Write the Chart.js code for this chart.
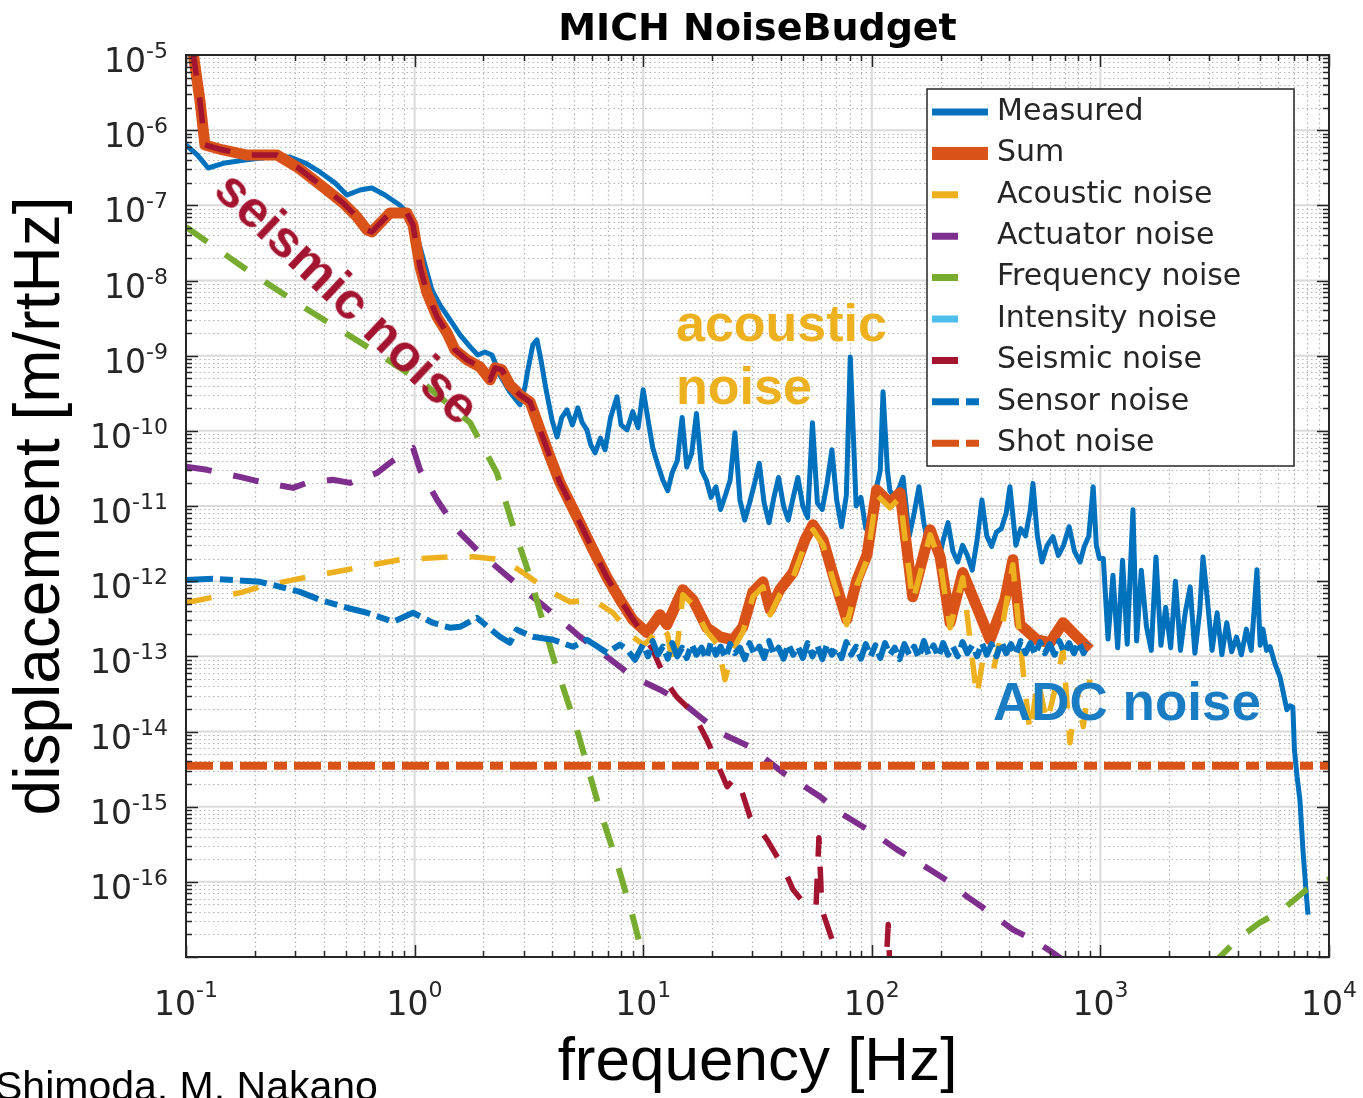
<!DOCTYPE html>
<html>
<head>
<meta charset="utf-8">
<title>MICH NoiseBudget</title>
<script src="https://cdn.jsdelivr.net/npm/chart.js@4.4.1/dist/chart.umd.min.js"></script>
<style>
  html, body { margin: 0; padding: 0; background: #fff; overflow: hidden; }
  #wrap { position: relative; width: 1363px; height: 1098px; overflow: hidden; }
  canvas { display: block; }
  .note { position: absolute; font-family: 'Liberation Sans', Arial, sans-serif; font-weight: bold; white-space: nowrap; line-height: 63px; }
  #seismicNote { left: 348px; top: 297px; font-size: 52px; color: #A2142F; transform: translate(-50%, -50%) rotate(43.5deg); line-height: 1; }
  #acousticNote { left: 676px; top: 292px; font-size: 52px; color: #EDB120; }
  #adcNote { left: 993px; top: 670px; font-size: 53px; color: #1a7cc2; }
  #credit { position: absolute; left: -5px; top: 1066px; font-family: 'Liberation Sans', Arial, sans-serif; font-size: 41px; line-height: 41px; color: #000; white-space: nowrap; }
</style>
</head>
<body>
<div id="wrap">
  <canvas id="myChart" width="1363" height="1098"></canvas>
  <div class="note" id="seismicNote">seismic noise</div>
  <div class="note" id="acousticNote">acoustic<br>noise</div>
  <div class="note" id="adcNote">ADC noise</div>
  <div id="credit">Shimoda, M. Nakano</div>
</div>
<script>
// axis ranges and tick labels (powers of ten)
var xMin = 0.1, xMax = 1e4;
var yMin = 1e-17, yMax = 1e-5;
var xTickExps = [-1, 0, 1, 2, 3, 4];
var yTickExps = [-5, -6, -7, -8, -9, -10, -11, -12, -13, -14, -15, -16];

// Measured spectrum [Hz] / [m/rtHz]
var measuredFreq = [
  0.1, 0.112, 0.125, 0.148, 0.181, 0.233, 0.285, 0.332, 0.385, 0.448,
  0.505, 0.577, 0.65, 0.742, 0.86, 0.955, 1.035, 1.11, 1.19, 1.29,
  1.43, 1.58, 1.75, 1.89, 2.03, 2.18, 2.36, 2.61, 2.89, 3.04,
  3.13, 3.29, 3.43,
  3.57, 3.76, 3.99, 4.2, 4.4, 4.64, 4.9, 5.18, 5.4, 5.67,
  5.9, 6.16, 6.5, 6.81, 7.2, 7.68, 8.0, 8.5, 9.0, 9.5,
  10,
  10.5, 11, 11.6, 12.2, 12.8, 13.4, 14.1, 14.8, 15.5, 16.3,
  17.1, 18, 18.9, 19.8, 20.8, 21.8, 22.9, 24, 25.2, 26.5,
  27.8, 29.2, 30.7, 32.2, 33.8, 35.5, 37.3, 39.1, 41.1, 43.1,
  45.3, 47.5, 49.9, 52.4, 55, 57.8, 60.7, 63.7, 66.9, 70.2,
  73.7, 77.4, 80.5, 85.4, 89.6, 94.1, 98.8, 103.7, 108.9, 112,
  117, 120, 126, 132.3, 137, 145.9, 153.2, 160.8, 168.9, 177.3,
  186.2, 195.5, 205.2, 215.5, 226.3, 237.6, 249.5, 261.9, 275, 288.8,
  303.2, 318.4, 334.3, 351, 368.6, 387, 402, 426.7, 448, 470.4,
  494, 507, 530, 555, 585, 620, 655, 690, 730, 770,
  815, 850, 890, 930, 960, 990,
  1030, 1080, 1135, 1190, 1250, 1310, 1388, 1440, 1510, 1590,
  1670, 1750, 1840, 1930, 2030, 2130, 2240, 2350, 2470, 2590,
  2720, 2810, 2930, 3080, 3240, 3400, 3570, 3750, 3940, 4140,
  4350, 4570, 4840, 5000, 5140, 5330, 5520, 5800, 6100, 6350,
  6540, 6750, 6950, 7060, 7250, 7460, 7690, 7900, 8090
];
var measuredVal = [
  6.35e-7, 4.7e-7, 3.14e-7, 3.66e-7, 4.0e-7, 4.4e-7, 4.4e-7, 3.66e-7, 2.78e-7, 1.99e-7,
  1.37e-7, 1.6e-7, 1.7e-7, 1.37e-7, 1.01e-7, 7.45e-8, 3.46e-8, 1.61e-8, 7.5e-9, 4.74e-9,
  3.0e-9, 1.89e-9, 1.31e-9, 1.02e-9, 1.12e-9, 1.02e-9, 5.55e-10, 3.3e-10, 2.22e-10, 3.85e-10,
  6.47e-10, 1.39e-9, 1.62e-9,
  8.8e-10, 3.51e-10, 1.4e-10, 8.3e-11, 1.5e-10, 1.9e-10, 1.2e-10, 2.02e-10, 1.3e-10, 1.03e-10,
  6.5e-11, 5.1e-11, 8e-11, 5.6e-11, 1.5e-10, 2.83e-10, 1.2e-10, 1.03e-10, 1.8e-10, 1.1e-10,
  3.51e-10,
  1.4e-10, 6e-11, 3.5e-11, 2.2e-11, 1.6e-11, 2.8e-11, 4e-11, 1.5e-10, 3.3e-11, 5e-11,
  1.7e-10, 3e-11, 2.2e-11, 1.3e-11, 1.8e-11, 9e-12, 1.4e-11, 2.2e-11, 9.4e-11, 1.2e-11,
  6.5e-12, 1.1e-11, 2e-11, 3.7e-11, 1.1e-11, 6e-12, 1.3e-11, 2.4e-11, 1e-11, 6.5e-12,
  1.3e-11, 2.4e-11, 1e-11, 7e-12, 1.28e-10, 1.1e-11, 9e-12, 2e-11, 5.6e-11, 1.2e-11,
  5.3e-12, 1.4e-11, 9.6e-10, 1e-11, 1.3e-11, 5e-12, 7e-12, 1.5e-11, 3e-11, 3.3e-10,
  3e-11, 1.6e-11, 1.3e-11, 1.8e-11, 2.4e-11, 4e-12, 8e-12, 1.8e-11, 6e-12, 2.9e-12,
  4.5e-12, 1.8e-12, 3.5e-12, 6e-12, 2.5e-12, 1.8e-12, 3e-12, 2.2e-12, 1.4e-12, 3.5e-12,
  1.2e-11, 4e-12, 2.9e-12, 4.5e-12, 5e-12, 8e-12, 1.8e-11, 3e-12, 5e-12, 4e-12,
  9e-12, 2e-11, 4e-12, 1.8e-12, 3e-12, 3.9e-12, 2.2e-12, 3e-12, 5.3e-12, 2.5e-12,
  1.8e-12, 2.9e-12, 4e-12, 1.8e-11, 3e-12, 2e-12,
  2.0e-12, 1.7e-13, 1.2e-12, 1.3e-13, 1.9e-12, 1.45e-13, 8.9e-12, 1.6e-13, 1.4e-12, 2.5e-13,
  1.2e-13, 2.1e-12, 1.4e-13, 4.5e-13, 1.3e-13, 1.0e-12, 1.2e-13, 3.8e-13, 8.4e-13, 1.1e-13,
  4e-13, 2.1e-12, 6.2e-13, 1.2e-13, 3.8e-13, 1.05e-13, 2.8e-13, 1.15e-13, 1.8e-13, 1.05e-13,
  2.3e-13, 1.2e-13, 1.42e-12, 1.4e-13, 2.3e-13, 1.2e-13, 1.35e-13, 8e-14, 5.35e-14, 3e-14,
  1.95e-14, 2.2e-14, 2.1e-14, 5.7e-15, 2.5e-15, 1.24e-15, 2.68e-16, 9e-17, 3.66e-17
];

// Sum of all noises
var sumFreq = [
  0.107, 0.115, 0.121, 0.145, 0.185, 0.25, 0.306, 0.397, 0.486, 0.56,
  0.619, 0.65, 0.78, 0.925, 0.984, 1.056, 1.133, 1.253, 1.386, 1.502,
  1.695, 1.93, 2.14, 2.25, 2.41, 2.61, 2.89, 3.2, 3.54, 3.91,
  4.33, 5.13, 6.03, 6.93, 7.92, 9.0, 10.4, 11.85, 12.7, 14.9,
  16.5, 19.0, 21.7, 24.7, 27.3, 30.2, 33.4, 35.9, 39.6, 45.2,
  51.0, 55.3, 61.2, 67.7, 77.7, 86.1, 95.3, 105, 120, 133,
  151, 180, 199, 220, 250, 288, 329, 382, 414, 445,
  528, 602, 686, 790, 900
];
var sumVal = [
  1.17e-5, 2.52e-6, 6.35e-7, 5.45e-7, 4.67e-7, 4.67e-7, 3.24e-7, 1.76e-7, 1.08e-7, 7.0e-8,
  4.7e-8, 4.43e-8, 7.9e-8, 7.9e-8, 5.5e-8, 1.52e-8, 6.84e-9, 3.28e-9, 2.01e-9, 1.19e-9,
  8.8e-10, 7.1e-10, 4.77e-10, 6.9e-10, 6.47e-10, 4.09e-10, 3.0e-10, 2.42e-10, 1.03e-10, 4.5e-11,
  2.03e-11, 7.2e-12, 2.62e-12, 1.14e-12, 5.65e-13, 3.07e-13, 2.06e-13, 3.57e-13, 2.64e-13, 7.7e-13,
  5.65e-13, 2.4e-13, 1.82e-13, 1.66e-13, 2.47e-13, 7.2e-13, 9.8e-13, 4.17e-13, 7.7e-13, 1.3e-12,
  3.55e-12, 5.62e-12, 3.55e-12, 1.22e-12, 3.07e-13, 1.04e-12, 2.25e-12, 1.64e-11, 1.1e-11, 1.5e-11,
  6.2e-13, 4.83e-12, 2.11e-12, 2.8e-13, 1.3e-12, 4.56e-13, 1.66e-13, 5.65e-13, 1.93e-12, 2.64e-13,
  1.66e-13, 1.52e-13, 2.8e-13, 1.82e-13, 1.23e-13
];

var acousticFreq = [
  0.1, 0.127, 0.172, 0.211, 0.294, 0.505, 0.86, 1.47, 1.8, 2.44,
  2.98, 3.79, 4.78, 6.03, 7.37, 9.0, 10, 10.7, 11.85, 12.8,
  13.5, 14.2, 14.9, 16.5, 19.0, 21.2, 22.8, 24.7, 27.3, 30.2,
  33.4, 35.9, 39.6, 45.2, 51.0, 55.3, 61.2, 67.7, 77.7, 86.1,
  95.3, 105, 120, 133, 151, 180, 199, 220, 250, 269,
  288, 306, 339, 364, 390, 414, 445, 468, 493, 533,
  583, 633, 686, 736, 790, 841, 900
];
var acousticVal = [
  5.16e-13, 6.0e-13, 7.0e-13, 8.4e-13, 1.04e-12, 1.42e-12, 1.93e-12, 2.11e-12, 2.11e-12, 1.93e-12,
  1.3e-12, 7.7e-13, 5.3e-13, 5.65e-13, 3.8e-13, 1.82e-13, 1.43e-13, 1.66e-13, 2.64e-13, 1.94e-13,
  7.05e-14, 1.66e-13, 6.6e-13, 4.86e-13, 2.12e-13, 1.43e-13, 4.9e-14, 1.23e-13, 2.12e-13, 6.2e-13,
  8.4e-13, 3.57e-13, 6.6e-13, 1.11e-12, 3.05e-12, 4.83e-12, 3.05e-12, 1.04e-12, 2.64e-13, 8.9e-13,
  1.93e-12, 1.41e-11, 9.5e-12, 1.29e-11, 5.3e-13, 4.14e-12, 1.81e-12, 2.4e-13, 1.11e-12, 1.66e-13,
  2.9e-14, 9.0e-14, 6.24e-14, 1.66e-13, 5.65e-13, 1.65e-12, 1.66e-13, 3.6e-14, 9.6e-15, 4.9e-14,
  1.31e-14, 3.6e-14, 1.23e-13, 7.1e-15, 3.6e-14, 1.16e-14, 4.9e-14
];

var actuatorFreq = [
  0.1, 0.1235, 0.172, 0.211, 0.294, 0.338, 0.439, 0.521, 0.685, 0.78,
  0.91, 0.984, 1.056, 1.253, 1.533, 1.93, 2.36, 2.89, 3.54, 4.33,
  5.29, 6.93, 9.0, 11.85, 14.9, 17.7, 21.7, 29.3, 40.9, 59.4,
  72.6, 101, 129, 180, 220, 261, 329, 414, 507, 620,
  700
];
var actuatorVal = [
  3.32e-11, 3.03e-11, 2.44e-11, 2.1e-11, 1.74e-11, 2.03e-11, 2.23e-11, 2.03e-11, 2.76e-11, 3.75e-11,
  5.26e-11, 5.94e-11, 3.03e-11, 1.21e-11, 4.83e-12, 2.39e-12, 1.42e-12, 8.4e-13, 5.16e-13, 3.07e-13,
  1.82e-13, 9.9e-14, 5.35e-14, 3.6e-14, 2.41e-14, 1.57e-14, 9.6e-15, 6.28e-15, 2.83e-15, 1.36e-15,
  8.3e-16, 4.5e-16, 2.68e-16, 1.45e-16, 9.8e-17, 6.35e-17, 3.9e-17, 2.31e-17, 1.7e-17, 1.14e-17,
  8.7e-18
];

// null = the curve is far below the plotted range there
var frequencyFreq = [0.1, 0.185, 0.315, 0.685, 1.088, 1.75, 2.29, 2.70, 3.2, 4.03, 5.13, 6.46, 7.68, 9.0, 10.2,
  100, 3080, 3960, 4980, 6100, 7990, 10000];
var frequencyVal = [5.16e-8, 1.38e-8, 4.74e-9, 1.09e-9, 4.35e-10, 1.28e-10, 2.76e-11, 5.3e-12, 1.14e-12, 9.9e-14, 1.06e-14, 9.1e-16, 1.8e-16, 3.44e-17, 7.9e-18,
  null, 7.9e-18, 1.7e-17, 2.87e-17, 4.0e-17, 7.9e-17, 1.08e-16];

// intensity noise is below the plotted range
var intensityFreq = [];
var intensityVal = [];

var seismicFreq = [
  0.107, 0.115, 0.121, 0.145, 0.185, 0.25, 0.306, 0.397, 0.486, 0.56,
  0.619, 0.65, 0.78, 0.925, 0.984, 1.056, 1.133, 1.253, 1.386, 1.502,
  1.695, 1.93, 2.14, 2.25, 2.41, 2.61, 2.89, 3.2, 3.54, 3.91,
  4.33, 5.13, 6.03, 6.93, 7.92, 9.67, 11.0, 11.85, 12.7, 14.0,
  16.5, 19.0, 21.0, 23.3, 25.2, 27.1, 29.3, 34.8, 40.9, 45.2,
  52.0, 57.0, 58.7, 60.5, 67.7, 73.9, 114, 118, 121, 220
];
var seismicVal = [
  1.17e-5, 2.52e-6, 6.35e-7, 5.45e-7, 4.67e-7, 4.67e-7, 3.24e-7, 1.76e-7, 1.08e-7, 7.0e-8,
  4.7e-8, 4.43e-8, 7.9e-8, 7.9e-8, 5.5e-8, 1.52e-8, 6.84e-9, 3.28e-9, 2.01e-9, 1.19e-9,
  8.8e-10, 7.1e-10, 4.77e-10, 6.9e-10, 6.47e-10, 4.09e-10, 3.0e-10, 2.42e-10, 1.03e-10, 4.5e-11,
  2.03e-11, 7.2e-12, 2.62e-12, 1.14e-12, 5.65e-13, 2.26e-13, 1.23e-13, 7.3e-14, 4.45e-14, 2.9e-14,
  1.78e-14, 7.8e-15, 3.85e-15, 1.84e-15, 2.42e-15, 1.54e-15, 7.36e-16, 3.64e-16, 1.59e-16, 7.9e-17,
  4.68e-17, 4.55e-17, 3.87e-16, 4.27e-17, 1.55e-17, 9.2e-18, 3.7e-18, 2.7e-17, 3.7e-18, 5.9e-19
];

var sensorFreq = [
  0.1, 0.131, 0.211, 0.258, 0.315, 0.385, 0.505, 0.619, 0.805, 0.984,
  1.20, 1.43, 1.58, 1.875, 2.36, 2.61, 2.80, 3.29, 4.03, 4.93,
  5.67, 6.93, 7.92, 8.5, 9.2,
  10, 10.5, 11, 11.6, 12.2, 12.8, 13.4, 14.1, 14.8, 15.5,
  16.3, 17.1, 18, 18.9, 19.8, 20.8, 21.8, 22.9, 24, 25.2,
  26.5, 27.8, 29.2, 30.7, 32.2, 33.8, 35.5, 37.3, 39.1, 41.1,
  43.1, 45.3, 47.5, 49.9, 52.4, 55, 57.8, 60.7, 63.7, 66.9,
  70.2, 73.7, 77.4, 81.3, 85.4, 89.6, 94.1, 98.8, 103.7, 108.9,
  114.3, 120, 126, 132.3, 138.9, 145.9, 153.2, 160.8, 168.9, 177.3,
  186.2, 195.5, 205.2, 215.5, 226.3, 237.6, 249.5, 261.9, 275, 288.8,
  303.2, 318.4, 334.3, 351, 368.6, 387, 406.4, 426.7, 448, 470.4,
  494, 518.7, 544.6, 571.8, 600.4, 630.4, 662, 695, 729.8, 766.3,
  804.6, 844.8, 887
];
var sensorVal = [
  1.04e-12, 1.08e-12, 9.8e-13, 8.4e-13, 7.2e-13, 5.65e-13, 4.43e-13, 3.8e-13, 2.88e-13, 3.8e-13,
  2.8e-13, 2.4e-13, 2.47e-13, 3.26e-13, 1.82e-13, 1.52e-13, 2.26e-13, 1.82e-13, 1.66e-13, 1.34e-13,
  1.66e-13, 1.12e-13, 1.43e-13, 1.23e-13, 9.0e-14,
  1.45e-13, 1.0e-13, 1.6e-13, 1.05e-13, 1.35e-13, 9.3e-14, 1.5e-13, 1.0e-13, 1.3e-13, 9.5e-14,
  1.45e-13, 1.05e-13, 1.3e-13, 9.2e-14, 1.55e-13, 1.05e-13, 1.35e-13, 9.5e-14, 1.45e-13, 1.1e-13,
  1.3e-13, 9.2e-14, 1.5e-13, 1.05e-13, 1.35e-13, 9.5e-14, 1.6e-13, 1.05e-13, 1.3e-13, 9.3e-14,
  1.45e-13, 1.05e-13, 1.35e-13, 9.5e-14, 1.5e-13, 1.0e-13, 1.4e-13, 9.2e-14, 1.45e-13, 1.05e-13,
  1.3e-13, 9.5e-14, 1.55e-13, 1.05e-13, 1.35e-13, 9.3e-14, 1.45e-13, 1.0e-13, 1.4e-13, 9.5e-14,
  1.5e-13, 1.05e-13, 1.3e-13, 9.2e-14, 1.45e-13, 1.05e-13, 1.35e-13, 9.5e-14, 1.6e-13, 1.05e-13,
  1.4e-13, 9.8e-14, 1.5e-13, 1.05e-13, 1.35e-13, 1.0e-13, 1.55e-13, 1.1e-13, 1.4e-13, 1.0e-13,
  1.5e-13, 1.05e-13, 1.45e-13, 1.0e-13, 1.55e-13, 1.1e-13, 1.45e-13, 1.05e-13, 1.6e-13, 1.1e-13,
  1.5e-13, 1.05e-13, 1.55e-13, 1.1e-13, 1.45e-13, 1.05e-13, 1.6e-13, 1.1e-13, 1.5e-13, 1.1e-13,
  1.55e-13, 1.1e-13, 1.5e-13
];

var shotFreq = [0.1, 10000];
var shotVal = [3.5e-15, 3.5e-15];

function pts(fs, vs) {
  return fs.map(function (f, i) { return { x: f, y: vs[i] }; });
}

var dashed = [26, 22];
var dashDot = [27, 7, 13, 7];

function series(label, fs, vs, color, width, dash, order) {
  return {
    label: label,
    data: pts(fs, vs),
    borderColor: color,
    backgroundColor: color,
    borderWidth: width,
    borderDash: dash,
    borderJoinStyle: 'round',
    borderCapStyle: 'butt',
    pointRadius: 0,
    tension: 0,
    fill: false,
    spanGaps: false,
    clip: 1,
    order: order
  };
}

var datasets = [
  series('Measured', measuredFreq, measuredVal, '#0072BD', 5, [], 9),
  series('Sum', sumFreq, sumVal, '#D95319', 11, [], 8),
  series('Acoustic noise', acousticFreq, acousticVal, '#EDB120', 5.5, dashed, 7),
  series('Actuator noise', actuatorFreq, actuatorVal, '#7E2F8E', 6, dashed, 6),
  series('Frequency noise', frequencyFreq, frequencyVal, '#77AC30', 6, dashed, 5),
  series('Intensity noise', intensityFreq, intensityVal, '#4DBEEE', 6, dashed, 4),
  series('Seismic noise', seismicFreq, seismicVal, '#A2142F', 5.5, dashed, 3),
  series('Sensor noise', sensorFreq, sensorVal, '#0072BD', 6, dashDot, 2),
  series('Shot noise', shotFreq, shotVal, '#D95319', 8, dashDot, 1)
];

// legend sample length / thickness per entry
var legendLen = [56, 56, 29, 29, 29, 29, 29, 50, 50];
var legendWidth = [7, 13, 7, 7, 7, 7, 7, 7, 7];

var axisColor = '#262626';
var tickFont = '"DejaVu Sans", sans-serif';

function powLabel(ctx, exp, x, y, align, raise) {
  ctx.font = '33px ' + tickFont;
  var base = '10';
  var bw = ctx.measureText(base).width;
  ctx.font = '22px ' + tickFont;
  var sup = String(exp);
  var sw = ctx.measureText(sup).width;
  var start = align === 'right' ? x - bw - sw : x - (bw + sw) / 2;
  ctx.textAlign = 'left';
  ctx.textBaseline = 'alphabetic';
  ctx.font = '33px ' + tickFont;
  ctx.fillText(base, start, y);
  ctx.font = '22px ' + tickFont;
  ctx.fillText(sup, start + bw, y - raise);
}

var frame = {
  id: 'frame',
  beforeDatasetsDraw: function (chart) {
    var ctx = chart.ctx, a = chart.chartArea, xs = chart.scales.x, ys = chart.scales.y;
    var xLo = Math.round(Math.log10(xMin)), xHi = Math.round(Math.log10(xMax));
    var yLo = Math.round(Math.log10(yMin)), yHi = Math.round(Math.log10(yMax));
    ctx.save();
    // minor grid (dotted)
    ctx.strokeStyle = '#b4b4b4';
    ctx.lineWidth = 1.2;
    ctx.setLineDash([1.5, 3]);
    ctx.beginPath();
    for (var e = xLo; e < xHi; e++) {
      for (var m = 2; m < 10; m++) {
        var px = Math.round(xs.getPixelForValue(m * Math.pow(10, e))) + 0.5;
        ctx.moveTo(px, a.top); ctx.lineTo(px, a.bottom);
      }
    }
    for (var e2 = yLo; e2 < yHi; e2++) {
      for (var m2 = 2; m2 < 10; m2++) {
        var py = Math.round(ys.getPixelForValue(m2 * Math.pow(10, e2))) + 0.5;
        ctx.moveTo(a.left, py); ctx.lineTo(a.right, py);
      }
    }
    ctx.stroke();
    // major grid
    ctx.setLineDash([]);
    ctx.strokeStyle = '#dadada';
    ctx.lineWidth = 2;
    ctx.beginPath();
    for (var e3 = xLo; e3 <= xHi; e3++) {
      var qx = xs.getPixelForValue(Math.pow(10, e3));
      ctx.moveTo(qx, a.top); ctx.lineTo(qx, a.bottom);
    }
    for (var e4 = yLo; e4 <= yHi; e4++) {
      var qy = ys.getPixelForValue(Math.pow(10, e4));
      ctx.moveTo(a.left, qy); ctx.lineTo(a.right, qy);
    }
    ctx.stroke();
    ctx.restore();
  },
  afterDatasetsDraw: function (chart) {
    var ctx = chart.ctx, a = chart.chartArea, xs = chart.scales.x, ys = chart.scales.y;
    var xLo = Math.round(Math.log10(xMin)), xHi = Math.round(Math.log10(xMax));
    var yLo = Math.round(Math.log10(yMin)), yHi = Math.round(Math.log10(yMax));
    ctx.save();
    ctx.strokeStyle = axisColor;
    ctx.lineWidth = 1.5;
    ctx.beginPath();
    for (var e = xLo; e <= xHi; e++) {
      for (var m = 1; m < 10; m++) {
        if (e === xHi && m > 1) break;
        var px = Math.round(xs.getPixelForValue(m * Math.pow(10, e))) + 0.5;
        var len = m === 1 ? 12 : 6;
        ctx.moveTo(px, a.bottom); ctx.lineTo(px, a.bottom - len);
        ctx.moveTo(px, a.top); ctx.lineTo(px, a.top + len);
      }
    }
    for (var e2 = yLo; e2 <= yHi; e2++) {
      for (var m2 = 1; m2 < 10; m2++) {
        if (e2 === yHi && m2 > 1) break;
        var py = Math.round(ys.getPixelForValue(m2 * Math.pow(10, e2))) + 0.5;
        var len2 = m2 === 1 ? 12 : 6;
        ctx.moveTo(a.left, py); ctx.lineTo(a.left + len2, py);
        ctx.moveTo(a.right, py); ctx.lineTo(a.right - len2, py);
      }
    }
    ctx.stroke();
    ctx.lineWidth = 2;
    ctx.strokeRect(a.left, a.top, a.right - a.left, a.bottom - a.top);

    // tick labels
    ctx.fillStyle = axisColor;
    xTickExps.forEach(function (ex) {
      powLabel(ctx, ex, xs.getPixelForValue(Math.pow(10, ex)), a.bottom + 58, 'center', 18);
    });
    yTickExps.forEach(function (ex) {
      powLabel(ctx, ex, a.left - 18, ys.getPixelForValue(Math.pow(10, ex)) + 17, 'right', 14);
    });

    // title
    ctx.fillStyle = '#000';
    ctx.font = 'bold 38px ' + tickFont;
    ctx.textAlign = 'center';
    ctx.textBaseline = 'alphabetic';
    ctx.fillText('MICH NoiseBudget', (a.left + a.right) / 2, a.top - 15);

    // legend
    var lx = a.right - 402, ly = a.top + 34, lw = 367, lh = 377, row = 41.4;
    ctx.fillStyle = '#fff';
    ctx.fillRect(lx, ly, lw, lh);
    ctx.strokeStyle = axisColor;
    ctx.lineWidth = 1.5;
    ctx.strokeRect(lx, ly, lw, lh);
    chart.data.datasets.forEach(function (ds, i) {
      var cy = ly + 23 + i * row;
      ctx.save();
      ctx.beginPath();
      ctx.rect(lx + 5, cy - 10, legendLen[i], 20);
      ctx.clip();
      ctx.strokeStyle = ds.borderColor;
      ctx.lineWidth = legendWidth[i];
      ctx.setLineDash(ds.borderDash || []);
      ctx.beginPath();
      ctx.moveTo(lx + 5, cy);
      ctx.lineTo(lx + 5 + legendLen[i], cy);
      ctx.stroke();
      ctx.restore();
      ctx.fillStyle = axisColor;
      ctx.font = '30px ' + tickFont;
      ctx.textAlign = 'left';
      ctx.textBaseline = 'middle';
      ctx.fillText(ds.label, lx + 70, cy);
    });
    ctx.restore();
  }
};

var ctx = document.getElementById('myChart');

new Chart(ctx, {
  type: 'line',
  data: { datasets: datasets },
  options: {
    responsive: false,
    animation: false,
    events: [],
    layout: { padding: { top: 55, right: 34, left: 0, bottom: 0 } },
    plugins: {
      legend: { display: false },
      title: { display: false },
      tooltip: { enabled: false }
    },
    scales: {
      x: {
        type: 'logarithmic',
        position: 'bottom',
        min: xMin,
        max: xMax,
        grid: { display: false },
        border: { display: false },
        ticks: { display: false },
        title: {
          display: true,
          text: 'frequency [Hz]',
          color: '#000',
          font: { family: "'Liberation Sans', Arial, sans-serif", size: 62, lineHeight: 1 },
          padding: { top: 0, bottom: 4 }
        },
        afterFit: function (scale) { scale.height = 141; }
      },
      y: {
        type: 'logarithmic',
        position: 'left',
        min: yMin,
        max: yMax,
        grid: { display: false },
        border: { display: false },
        ticks: { display: false },
        title: {
          display: true,
          text: 'displacement [m/rtHz]',
          color: '#000',
          font: { family: "'Liberation Sans', Arial, sans-serif", size: 64, lineHeight: 1 },
          padding: { top: 9, bottom: 0 }
        },
        afterFit: function (scale) { scale.width = 186; }
      }
    }
  },
  plugins: [frame]
});
</script>
</body>
</html>
